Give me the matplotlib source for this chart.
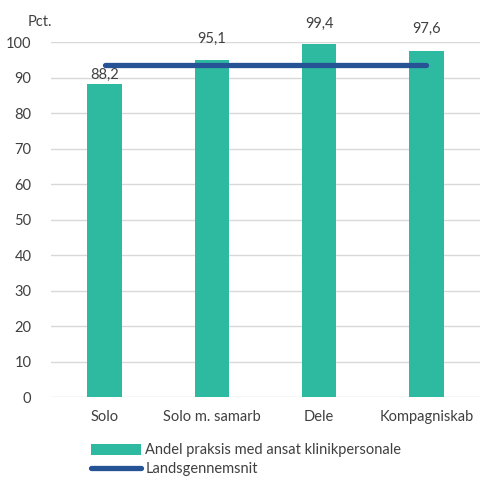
import matplotlib
matplotlib.use('Agg')
import matplotlib.pyplot as plt

# data
categories = ['Solo', 'Solo m. samarb', 'Dele', 'Kompagniskab']
andel = [88.2, 95.1, 99.4, 97.6]
landsgennemsnit = [93.6, 93.6, 93.6, 93.6]

plt.rcParams['font.family'] = ['Lato', 'DejaVu Sans']

fig = plt.figure(figsize=(4.8, 4.79), dpi=100)
ax = fig.add_axes([0.106, 0.171, 0.894, 0.741])

x = range(len(categories))
bars = ax.bar(x, andel, width=0.32, color='#2EBAA0', zorder=2,
              label='Andel praksis med ansat klinikpersonale')
line, = ax.plot(x, landsgennemsnit, color='#255396', linewidth=3.8, zorder=3,
                solid_capstyle='round', label='Landsgennemsnit')

# label gap above each bar (points); the first one sits just under the line
label_gap = [1.5, 9.5, 10, 10.5]
for xi, v, g in zip(x, andel, label_gap):
    ax.annotate(f'{v:.1f}'.replace('.', ','), (xi, v), xytext=(0, g),
                textcoords='offset points', ha='center', va='bottom',
                fontsize=10.5, color='#404040', annotation_clip=False, zorder=4)

ax.set_xlim(-0.5, len(categories) - 0.5)
ax.set_ylim(0, 100)
ax.set_yticks(range(0, 101, 10))
ax.set_xticks(list(x))
ax.set_xticklabels(categories)
ax.tick_params(axis='both', length=0, labelsize=10.5, colors='#404040')
ax.tick_params(axis='x', pad=9)
ax.tick_params(axis='y', pad=14)
ax.grid(axis='y', color='#D9D9D9', linewidth=1, zorder=0)
for s in ax.spines.values():
    s.set_visible(False)

fig.text(0.058, 0.968, 'Pct.', fontsize=10.5, color='#404040', va='top')

fig.legend([bars, line], [bars.get_label(), line.get_label()],
           loc='upper left', bbox_to_anchor=(0.175, 0.09), frameon=False,
           fontsize=10.5, handlelength=3.4, handleheight=0.8, labelspacing=0.35,
           borderpad=0, handletextpad=0.3, labelcolor='#404040')

fig.savefig('out.png', dpi=100)
